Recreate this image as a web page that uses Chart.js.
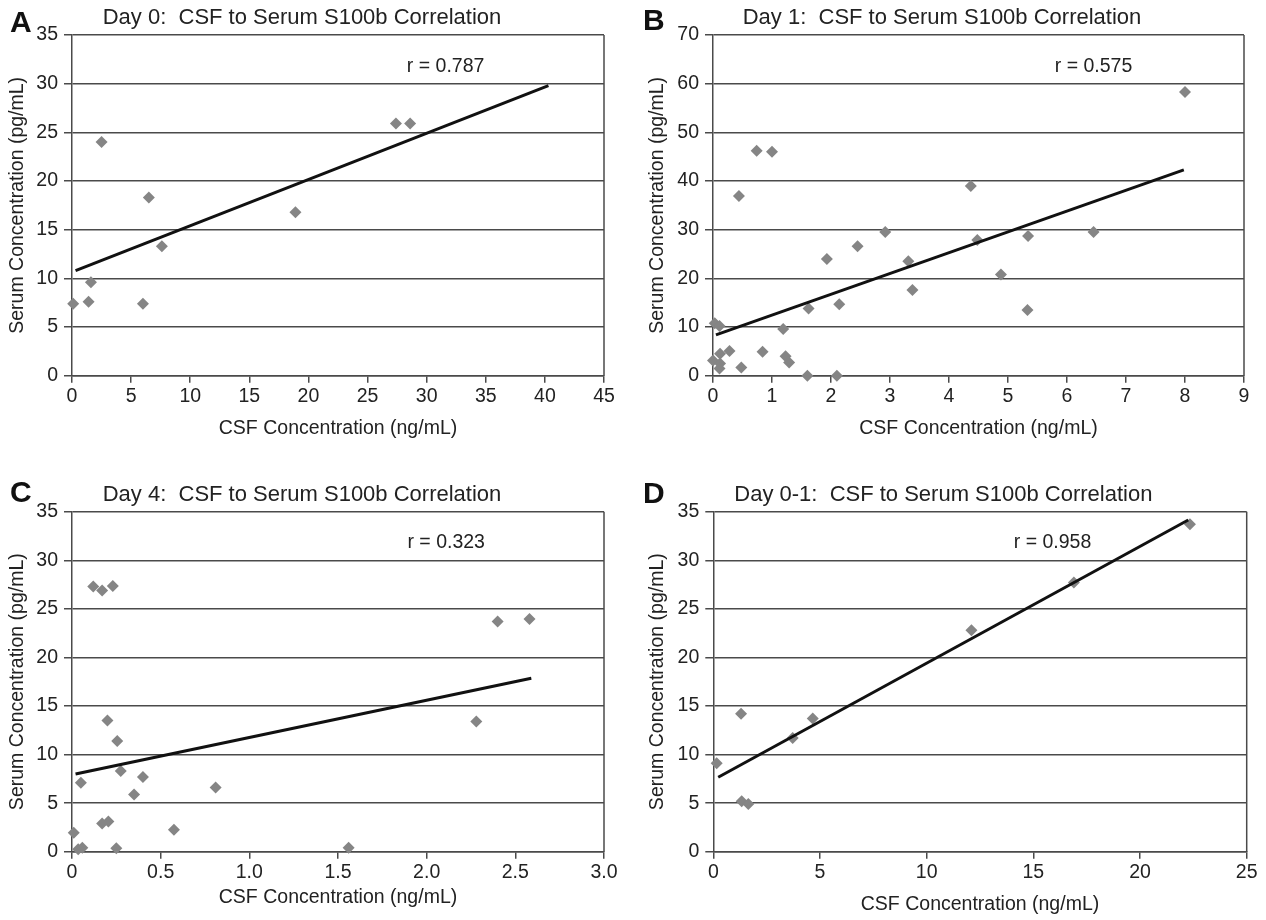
<!DOCTYPE html>
<html><head><meta charset="utf-8">
<script src="https://cdn.jsdelivr.net/npm/chart.js@4.4.1/dist/chart.umd.min.js"></script>
<style>
html,body{margin:0;padding:0;width:1266px;height:920px;overflow:hidden;background:#fff;}
canvas{position:absolute;}
.lt{position:absolute;font:bold 30px 'Liberation Sans',Arial,sans-serif;line-height:30px;color:#111;z-index:5;}
</style></head><body>
<canvas id="cA" width="640" height="460" style="left:0;top:0"></canvas>
<canvas id="cB" width="624" height="460" style="left:640px;top:0"></canvas>
<canvas id="cC" width="640" height="444" style="left:0;top:476px"></canvas>
<canvas id="cD" width="648" height="444" style="left:640px;top:476px"></canvas>
<div class="lt" style="left:10px;top:6.6px">A</div>
<div class="lt" style="left:643px;top:4.6px">B</div>
<div class="lt" style="left:10px;top:476.6px">C</div>
<div class="lt" style="left:643px;top:477.6px">D</div>
<script>
// ---- Panel A: Day 0 ----
const day0CSF   = [0.1, 1.4, 1.6, 2.5, 6.0, 6.5, 7.6, 18.9, 27.4, 28.6];
const day0Serum = [7.4, 7.6, 9.6, 24.0, 7.4, 18.3, 13.3, 16.8, 25.9, 25.9];
const day0TrendCSF = [0.3, 40.3];
const day0TrendSerum = [10.8, 29.8];
const day0R = 'r = 0.787';
const day0XTicks = [0, 5, 10, 15, 20, 25, 30, 35, 40, 45];
const day0XLabels = ['0','5','10','15','20','25','30','35','40','45'];
const day0YTicks = [0, 5, 10, 15, 20, 25, 30, 35];

// ---- Panel B: Day 1 ----
const day1CSF   = [0.74, 1.0, 0.44, 0.03, 0.11, 0.28, 0.12, 0.0, 0.12, 0.11, 0.48, 0.84, 1.19, 1.23, 1.29,
                   1.62, 1.6, 1.93, 2.14, 2.1, 2.45, 2.92, 3.31, 3.38, 4.37, 4.48, 5.34, 6.45, 4.88, 5.33, 8.0];
const day1Serum = [46.2, 46.0, 36.9, 10.8, 10.2, 5.1, 4.5, 3.1, 2.5, 1.5, 1.7, 4.9, 9.6, 4.0, 2.7,
                   13.8, 0.0, 24.0, 14.7, 0.0, 26.6, 29.5, 23.5, 17.6, 39.0, 27.9, 28.7, 29.5, 20.8, 13.5, 58.3];
const day1TrendCSF = [0.05, 7.98];
const day1TrendSerum = [8.4, 42.3];
const day1R = 'r = 0.575';
const day1XTicks = [0, 1, 2, 3, 4, 5, 6, 7, 8, 9];
const day1XLabels = ['0','1','2','3','4','5','6','7','8','9'];
const day1YTicks = [0, 10, 20, 30, 40, 50, 60, 70];

// ---- Panel C: Day 4 ----
const day4CSF   = [0.12, 0.17, 0.23, 0.2, 0.255, 0.05, 0.275, 0.4, 0.35, 0.81, 0.17, 0.205, 0.01, 0.575,
                   0.035, 0.058, 0.25, 2.40, 2.58, 2.28, 1.56];
const day4Serum = [27.3, 26.9, 27.35, 13.5, 11.4, 7.1, 8.3, 7.7, 5.9, 6.6, 2.9, 3.1, 1.95, 2.25,
                   0.25, 0.4, 0.35, 23.7, 23.95, 13.4, 0.4];
const day4TrendCSF = [0.02, 2.59];
const day4TrendSerum = [8.0, 17.85];
const day4R = 'r = 0.323';
const day4XTicks = [0, 0.5, 1.0, 1.5, 2.0, 2.5, 3.0];
const day4XLabels = ['0','0.5','1.0','1.5','2.0','2.5','3.0'];
const day4YTicks = [0, 5, 10, 15, 20, 25, 30, 35];

// ---- Panel D: Day 0-1 ----
const day01CSF   = [0.16, 1.3, 1.33, 1.64, 3.72, 4.66, 12.1, 16.9, 22.34];
const day01Serum = [9.1, 14.2, 5.2, 4.9, 11.7, 13.7, 22.8, 27.7, 33.7];
const day01TrendCSF = [0.23, 22.26];
const day01TrendSerum = [7.66, 34.15];
const day01R = 'r = 0.958';
const day01XTicks = [0, 5, 10, 15, 20, 25];
const day01XLabels = ['0','5','10','15','20','25'];
const day01YTicks = [0, 5, 10, 15, 20, 25, 30, 35];

const FONT = "'Liberation Sans', Arial, Helvetica, sans-serif";
const LINE = '#4a4a4a';
const TXT = '#222';

const framePlugin = {
  id: 'frame',
  beforeDatasetsDraw(chart) {
    const {ctx, chartArea: a} = chart;
    ctx.save();
    ctx.strokeStyle = LINE; ctx.lineWidth = 1.5;
    ctx.beginPath(); ctx.moveTo(a.right, a.top); ctx.lineTo(a.right, a.bottom); ctx.stroke();
    ctx.restore();
  },
  afterDatasetsDraw(chart, args, opts) {
    const {ctx, scales} = chart;
    ctx.save();
    ctx.font = '19.5px ' + FONT; ctx.fillStyle = TXT;
    ctx.textAlign = 'center'; ctx.textBaseline = 'middle';
    ctx.fillText(opts.text, scales.x.getPixelForValue(opts.x), scales.y.getPixelForValue(opts.y));
    ctx.restore();
  }
};

function makeChart(id, c) {
  return new Chart(document.getElementById(id), {
    type: 'scatter',
    data: { datasets: [
      { type: 'line', data: c.tx.map((x, i) => ({x, y: c.ty[i]})), borderColor: '#111', borderWidth: 3,
        pointRadius: 0, fill: false, tension: 0, order: 0, clip: false },
      { data: c.x.map((x, i) => ({x, y: c.y[i]})), pointStyle: 'rectRot', pointRadius: 6,
        backgroundColor: '#858585', borderColor: '#858585', borderWidth: 0, order: 1, clip: false }
    ]},
    options: {
      responsive: false, animation: false, devicePixelRatio: 1,
      layout: { padding: { left: 0, right: c.padRight, top: 0, bottom: 0 } },
      plugins: {
        legend: { display: false }, tooltip: { enabled: false },
        title: { display: true, text: c.title, color: TXT, font: { family: FONT, size: 22, weight: 'normal' },
                 padding: { top: c.titleTop, bottom: c.titleBottom } },
        frame: { text: c.r, x: c.rx, y: c.ry }
      },
      scales: {
        x: {
          type: 'linear', min: c.xt[0], max: c.xt[c.xt.length - 1],
          afterBuildTicks: s => { s.ticks = c.xt.map(v => ({value: v})); },
          afterFit: s => { s.height = c.xHeight; },
          ticks: { color: TXT, font: { family: FONT, size: 19.5 }, padding: 2.6, maxRotation: 0, autoSkip: false,
                   callback: (v, i) => c.xl[i] },
          grid: { drawOnChartArea: false, drawTicks: true, tickLength: 7, color: LINE, lineWidth: 1.5 },
          border: { color: LINE, width: 1.5 },
          title: { display: true, text: 'CSF Concentration (ng/mL)', color: TXT, font: { family: FONT, size: 19.5 },
                   padding: { top: 0, bottom: c.xTitleBottom } }
        },
        y: {
          type: 'linear', min: c.yt[0], max: c.yt[c.yt.length - 1],
          afterBuildTicks: s => { s.ticks = c.yt.map(v => ({value: v})); },
          afterFit: s => { s.width = c.yWidth; },
          ticks: { color: TXT, font: { family: FONT, size: 19.5 }, padding: 6, autoSkip: false,
                   callback: v => String(v) },
          grid: { drawTicks: true, tickLength: 8, color: LINE, lineWidth: 1.5 },
          border: { color: LINE, width: 1.5 },
          title: { display: true, text: 'Serum Concentration (pg/mL)', color: TXT, font: { family: FONT, size: 19.5 },
                   padding: { top: 6.3, bottom: 0 } }
        }
      }
    },
    plugins: [framePlugin]
  });
}

makeChart('cA', { title: 'Day 0:  CSF to Serum S100b Correlation', x: day0CSF, y: day0Serum,
  tx: day0TrendCSF, ty: day0TrendSerum, r: day0R, rx: 31.6, ry: 31.7,
  xt: day0XTicks, xl: day0XLabels, yt: day0YTicks,
  padRight: 36, yWidth: 72, xHeight: 84.3, titleTop: 4.8, titleBottom: 3.8, xTitleBottom: 19.3 });

makeChart('cB', { title: 'Day 1:  CSF to Serum S100b Correlation', x: day1CSF, y: day1Serum,
  tx: day1TrendCSF, ty: day1TrendSerum, r: day1R, rx: 6.45, ry: 63.4,
  xt: day1XTicks, xl: day1XLabels, yt: day1YTicks,
  padRight: 20, yWidth: 73, xHeight: 84.3, titleTop: 4.8, titleBottom: 3.8, xTitleBottom: 19.3 });

makeChart('cC', { title: 'Day 4:  CSF to Serum S100b Correlation', x: day4CSF, y: day4Serum,
  tx: day4TrendCSF, ty: day4TrendSerum, r: day4R, rx: 2.11, ry: 31.8,
  xt: day4XTicks, xl: day4XLabels, yt: day4YTicks,
  padRight: 36, yWidth: 72, xHeight: 68.3, titleTop: 5.8, titleBottom: 3.5, xTitleBottom: 10.3 });

makeChart('cD', { title: 'Day 0-1:  CSF to Serum S100b Correlation', x: day01CSF, y: day01Serum,
  tx: day01TrendCSF, ty: day01TrendSerum, r: day01R, rx: 15.9, ry: 31.8,
  xt: day01XTicks, xl: day01XLabels, yt: day01YTicks,
  padRight: 41.3, yWidth: 73.3, xHeight: 68.3, titleTop: 5.8, titleBottom: 3.5, xTitleBottom: 3.3 });
</script>
</body></html>
